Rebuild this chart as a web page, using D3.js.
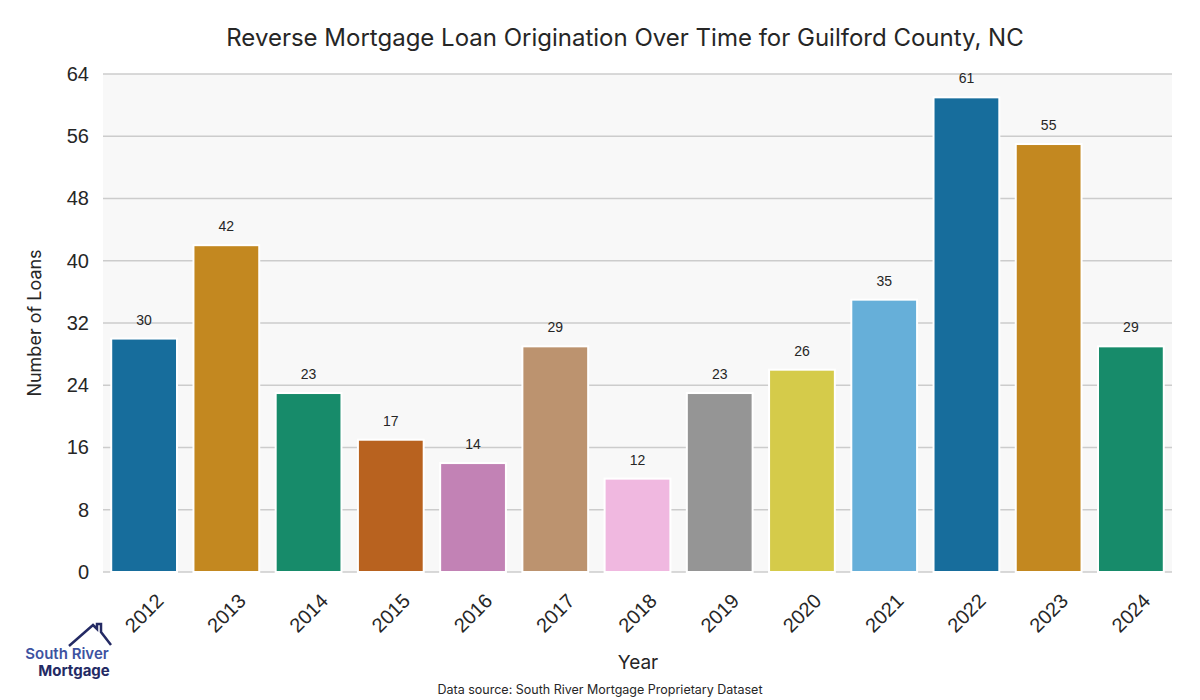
<!DOCTYPE html>
<html><head><meta charset="utf-8">
<script src="https://cdn.jsdelivr.net/npm/d3@7"></script>
<style>body{margin:0;background:#fff}svg{display:block}</style>
</head><body>
<svg id="c" width="1200" height="700"></svg>
<script>
const years = ["2012","2013","2014","2015","2016","2017","2018","2019","2020","2021","2022","2023","2024"];
const loans = [30,42,23,17,14,29,12,23,26,35,61,55,29];
const barColors = ["#176d9c","#c38820","#178b6a","#b8621f","#c282b5","#bc936f","#f0b8e0","#959595","#d5cb4a","#66afd9","#176d9c","#c38820","#178b6a"];
const yTicks = [0,8,16,24,32,40,48,56,64];
const titleText = "Reverse Mortgage Loan Origination Over Time for Guilford County, NC";

const svg = d3.select("#c");
const m = {l:103, r:1172, t:74, b:572};
const x = d3.scaleBand().domain(years).range([m.l, m.r]).paddingInner(0.2).paddingOuter(0.1);
const y = d3.scaleLinear().domain([0,64]).range([m.b, m.t]);

svg.append("rect").attr("x", m.l).attr("y", m.t).attr("width", m.r-m.l).attr("height", m.b-m.t).attr("fill","#f8f8f8");

// grid
svg.append("g").selectAll("line").data(yTicks).join("line")
  .attr("x1", m.l).attr("x2", m.r).attr("y1", d=>y(d)).attr("y2", d=>y(d))
  .attr("stroke","#cccccc").attr("stroke-width",1.5);

// y axis
const yAxis = d3.axisLeft(y).tickValues(yTicks).tickSize(0).tickPadding(14);
const ga = svg.append("g").attr("transform",`translate(${m.l},0)`).call(yAxis);
ga.select(".domain").remove();
ga.selectAll("text").attr("font-family","Liberation Sans, Arial, sans-serif").attr("font-size",20).attr("fill","#262626");

// bars
svg.append("g").selectAll("rect").data(years).join("rect")
  .attr("x", d=>x(d)).attr("width", x.bandwidth())
  .attr("y", (d,i)=>y(loans[i])).attr("height", (d,i)=>y(0)-y(loans[i]))
  .attr("fill", (d,i)=>barColors[i]).attr("stroke","#ffffff").attr("stroke-width",2);

// value labels
svg.append("g").selectAll("text").data(years).join("text")
  .attr("x", d=>x(d)+x.bandwidth()/2).attr("y", (d,i)=>y(loans[i])-14)
  .attr("text-anchor","middle").attr("font-family","Liberation Sans, Arial, sans-serif")
  .attr("font-size",14).attr("fill","#262626").text((d,i)=>loans[i]);

// x tick labels
svg.append("g").selectAll("text").data(years).join("text")
  .attr("transform", d=>`translate(${x(d)+x.bandwidth()/2},${613}) rotate(-45)`)
  .attr("text-anchor","middle").attr("dominant-baseline","central")
  .attr("font-family","Liberation Sans, Arial, sans-serif").attr("font-size",20).attr("fill","#262626")
  .text(d=>d);

// titles
svg.append("text").attr("x",625).attr("y",46).attr("text-anchor","middle")
  .attr("font-family","Inter, Lato, sans-serif").attr("font-size",24).attr("fill","#262626").text(titleText);
svg.append("text").attr("transform","translate(41,323) rotate(-90)").attr("text-anchor","middle")
  .attr("font-family","Inter, Lato, sans-serif").attr("font-size",18).attr("fill","#262626").text("Number of Loans");
svg.append("text").attr("x",638).attr("y",669).attr("text-anchor","middle")
  .attr("font-family","Inter, Lato, sans-serif").attr("font-size",19).attr("fill","#262626").text("Year");
svg.append("text").attr("x",600).attr("y",694).attr("text-anchor","middle")
  .attr("font-family","Inter, Lato, sans-serif").attr("font-size",12.5).attr("fill","#262626").text("Data source: South River Mortgage Proprietary Dataset");

// logo
const lg = svg.append("g");
lg.append("path").attr("d","M69,646 L93,625 L97,629 L97,624 L101,624 L101,632 L111,645")
  .attr("fill","none").attr("stroke","#242a64").attr("stroke-width",2.5).attr("stroke-linejoin","miter");
lg.append("text").attr("x",67).attr("y",659).attr("text-anchor","middle")
  .attr("font-family","Inter, Lato, sans-serif").attr("font-weight",600).attr("font-size",15).attr("fill","#3d52a1").text("South River");
lg.append("text").attr("x",74).attr("y",676).attr("text-anchor","middle")
  .attr("font-family","Inter, Lato, sans-serif").attr("font-weight",700).attr("font-size",15).attr("fill","#242a64").text("Mortgage");
</script>
</body></html>
